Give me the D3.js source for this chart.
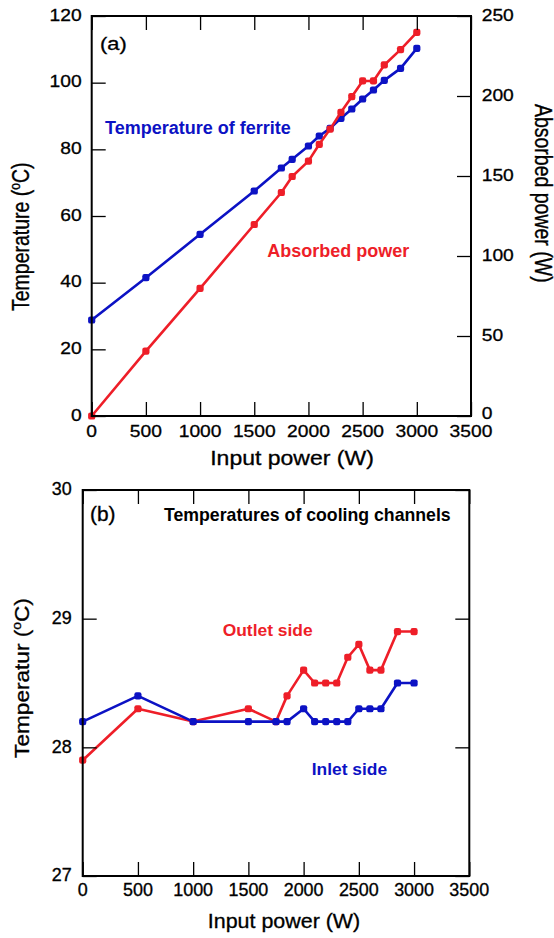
<!DOCTYPE html>
<html>
<head>
<meta charset="utf-8">
<script src="https://cdn.jsdelivr.net/npm/d3@7.9.0/dist/d3.min.js"></script>
<style>
  body { margin: 0; background: #fff; }
  svg { display: block; font-family: "Liberation Sans", Arial, sans-serif; }
</style>
</head>
<body>
<svg id="chart" width="554" height="938"></svg>
<script>
// Data
const inputPower = [0, 500, 1000, 1500, 1750, 1850, 2000, 2100, 2200, 2300, 2400, 2500, 2600, 2700, 2850, 3000];
const ferriteTemp = [28.8, 41.5, 54.5, 67.5, 74.4, 77, 81, 84, 86.3, 89.3, 92.1, 95.1, 97.8, 100.7, 104.3, 110.3];
const absorbedPower = [0, 40.5, 79.8, 119.7, 139.7, 149.7, 159.3, 169.8, 179.3, 189.8, 199.6, 209.4, 209.4, 219.4, 229, 239.8];
const inletTemp = [28.2, 28.4, 28.2, 28.2, 28.2, 28.2, 28.3, 28.2, 28.2, 28.2, 28.2, 28.3, 28.3, 28.3, 28.5, 28.5];
const outletTemp = [27.9, 28.3, 28.2, 28.3, 28.2, 28.4, 28.6, 28.5, 28.5, 28.5, 28.7, 28.8, 28.6, 28.6, 28.9, 28.9];

const xTicks = [0, 500, 1000, 1500, 2000, 2500, 3000, 3500];
const tempTicksA = [0, 20, 40, 60, 80, 100, 120];
const powerTicksA = [0, 50, 100, 150, 200, 250];
const tempTicksB = [27, 28, 29, 30];

const BLUE = 'rgb(12,18,196)';
const RED = 'rgb(238,30,40)';

const svg = d3.select('#chart');

// text helper: the axis text in the source is a bit stretched, so each label gets its own scale
function label(g, x, y, str, o = {}) {
  const fill = o.fill || '#000';
  const t = g.append('g')
    .attr('transform', `translate(${x},${y}) scale(${o.sx || 1},${o.sy || 1})` + (o.rotate ? ` rotate(${o.rotate})` : ''))
    .append('text')
    .attr('text-anchor', o.anchor || 'start')
    .attr('font-size', o.size || 16)
    .attr('font-weight', o.bold ? 'bold' : 'normal')
    .attr('fill', fill)
    .attr('stroke', fill)
    .attr('stroke-width', o.bold ? 0 : 0.3);
  if (Array.isArray(str)) {
    str.forEach((s) => {
      const sp = t.append('tspan').text(s.t);
      if (s.size) sp.attr('font-size', s.size);
      if (s.dy) sp.attr('dy', s.dy);
    });
  } else {
    t.text(str);
  }
  return t;
}

function frameAndTicks(g, x, y, yTicks, opts) {
  const [x0, x1] = x.range();
  const [y0, y1] = y.range();
  const tick = 14;
  const axes = [
    [d3.axisBottom(x).tickValues(xTicks), `translate(0,${y0})`],
    [d3.axisTop(x).tickValues(xTicks), `translate(0,${y1})`],
    [d3.axisLeft(y).tickValues(yTicks), `translate(${x0},0)`],
  ];
  if (opts.rightScale) {
    axes.push([d3.axisRight(opts.rightScale).tickValues(opts.rightTicks), `translate(${x1},0)`]);
  } else {
    axes.push([d3.axisRight(y).tickValues(yTicks), `translate(${x1},0)`]);
  }
  axes.forEach(([ax, tr]) => {
    const a = g.append('g').attr('transform', tr)
      .call(ax.tickSizeInner(-tick).tickSizeOuter(0).tickFormat(''));
    a.select('.domain').remove();
    a.selectAll('line').attr('stroke', '#000').attr('stroke-width', 1.3);
  });
  g.append('rect')
    .attr('x', x0).attr('y', y1)
    .attr('width', x1 - x0).attr('height', y0 - y1)
    .attr('fill', 'none').attr('stroke', '#000').attr('stroke-width', 2);
}

function series(g, x, y, ys, color) {
  const pts = inputPower.map((p, i) => [p, ys[i]]);
  g.append('path')
    .datum(pts)
    .attr('fill', 'none')
    .attr('stroke', color)
    .attr('stroke-width', 2.6)
    .attr('stroke-linejoin', 'round')
    .attr('d', d3.line().x((d) => x(d[0])).y((d) => y(d[1])));
  g.append('g').selectAll('rect')
    .data(pts)
    .join('rect')
    .attr('x', (d) => x(d[0]) - 3.6)
    .attr('y', (d) => y(d[1]) - 3.6)
    .attr('width', 7.2).attr('height', 7.2)
    .attr('rx', 2.2)
    .attr('fill', color);
}

// ---- panel (a)
{
  const g = svg.append('g');
  const x = d3.scaleLinear().domain([0, 3500]).range([91.7, 471]);
  const yT = d3.scaleLinear().domain([0, 120]).range([416, 16]);
  const yP = d3.scaleLinear().domain([0, 250]).range([416, 16]);
  const sx = 1.18;

  series(g, x, yT, ferriteTemp, BLUE);
  series(g, x, yP, absorbedPower, RED);
  frameAndTicks(g, x, yT, tempTicksA, { rightScale: yP, rightTicks: powerTicksA });

  xTicks.forEach((v) => label(g, x(v), 436.5, v, { anchor: 'middle', size: 16.3, sx }));
  tempTicksA.forEach((v) => label(g, 81.7, yT(v) + 4.6, v, { anchor: 'end', size: 16.3, sx }));
  powerTicksA.forEach((v) => label(g, 481.7, yP(v) + (v === 0 ? 2.5 : 4.5), v, { anchor: 'start', size: 16.3, sx }));

  label(g, 292, 465, 'Input power (W)', { anchor: 'middle', size: 19.5, sx });
  label(g, 28.5, 236.7, [{ t: 'Temperature (' }, { t: 'o', size: 12, dy: -7 }, { t: 'C)', dy: 7 }],
    { anchor: 'middle', size: 19.5, sx, rotate: -90 });
  label(g, 535, 193.3, 'Absorbed power (W)', { anchor: 'middle', size: 19.5, sx, rotate: 90 });

  label(g, 100, 49.5, '(a)', { size: 18.5, sx });
  label(g, 105, 133.5, 'Temperature of ferrite', { size: 18, bold: true, fill: BLUE });
  label(g, 267.3, 257, 'Absorbed power', { size: 18, bold: true, fill: RED });
}

// ---- panel (b)
{
  const g = svg.append('g');
  const x = d3.scaleLinear().domain([0, 3500]).range([82.7, 469.3]);
  const y = d3.scaleLinear().domain([27, 30]).range([876, 490]);
  const sx = 1.1, sy = 1.1;

  series(g, x, y, outletTemp, RED);
  series(g, x, y, inletTemp, BLUE);
  frameAndTicks(g, x, y, tempTicksB, {});

  xTicks.forEach((v) => label(g, x(v), 896, v, { anchor: 'middle', size: 16.3, sx, sy }));
  tempTicksB.forEach((v) => label(g, 71.7, y(v) + 5.4, v, { anchor: 'end', size: 16.3, sx, sy }));

  label(g, 284, 927.7, 'Input power (W)', { anchor: 'middle', size: 19.5, sx, sy: 1 });
  label(g, 28.5, 678, [{ t: 'Temperatur (' }, { t: 'o', size: 12, dy: -7 }, { t: 'C)', dy: 7 }],
    { anchor: 'middle', size: 19.5, sx: 1.05, sy: 1.16, rotate: -90 });

  label(g, 90, 520.6, '(b)', { size: 19, sx, sy });
  label(g, 164, 521, 'Temperatures of cooling channels', { size: 17.7, bold: true });
  label(g, 222.7, 636, 'Outlet side', { size: 17.4, bold: true, fill: RED });
  label(g, 311.7, 775, 'Inlet side', { size: 17.4, bold: true, fill: BLUE });
}
</script>
</body>
</html>
